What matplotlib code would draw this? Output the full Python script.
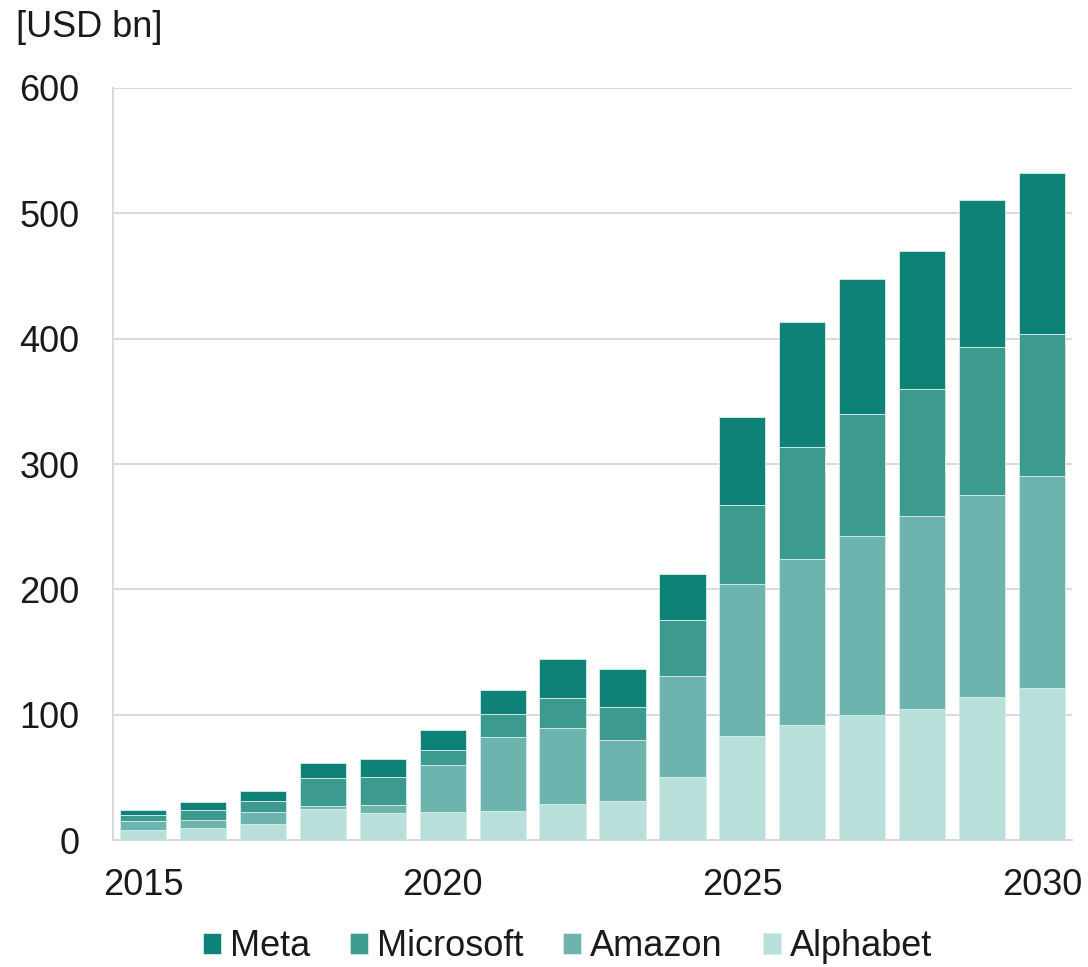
import matplotlib.pyplot as plt
import numpy as np

plt.rcParams['font.family'] = ['Liberation Sans', 'DejaVu Sans']

# capex by company, USD bn
years = np.arange(2015, 2031)
alphabet = [8.4, 9.6, 12.8, 24.7, 21.8, 22.1, 22.9, 29.0, 30.9, 50.0, 83.2, 91.8, 100.0, 104.9, 114.2, 120.9]
amazon = [6.8, 6.4, 9.5, 2.4, 6.1, 37.7, 59.3, 60.1, 49.1, 80.9, 121.3, 132.4, 142.9, 153.3, 160.7, 169.6]
microsoft = [4.5, 7.7, 8.6, 22.4, 22.4, 12.3, 18.3, 24.0, 26.1, 44.6, 62.8, 89.4, 97.1, 101.7, 118.1, 113.5]
meta = [4.2, 6.4, 8.0, 11.7, 14.6, 15.9, 19.4, 31.1, 30.1, 36.7, 70.2, 99.7, 107.7, 109.9, 117.7, 128.0]

colors = {
    'Alphabet': '#b8dfda',
    'Amazon': '#6db4ae',
    'Microsoft': '#3c9a8e',
    'Meta': '#0e8276',
}

fig = plt.figure(figsize=(10.88, 9.67), dpi=100)
ax = fig.add_axes([0.1039, 0.1313, 0.8814, 0.7777])

bottom = np.zeros(len(years))
bars = {}
for name, vals in [('Alphabet', alphabet), ('Amazon', amazon),
                   ('Microsoft', microsoft), ('Meta', meta)]:
    bars[name] = ax.bar(years, vals, bottom=bottom, width=0.77,
                        color=colors[name], edgecolor='#d8eeeb', linewidth=0.6,
                        label=name, zorder=3)
    bottom += np.array(vals)

ax.set_xlim(2014.5, 2030.5)
ax.set_ylim(0, 600)
ax.set_yticks(range(0, 601, 100))
ax.set_xticks([2015, 2020, 2025, 2030])
ax.tick_params(axis='both', length=0, labelsize=26, labelcolor='#1a1a1a')
ax.tick_params(axis='y', pad=24)
ax.tick_params(axis='x', pad=20)

ax.grid(axis='y', color='#d9d9d9', linewidth=1.4, zorder=0)
for s in ['top', 'right']:
    ax.spines[s].set_visible(False)
for s in ['left', 'bottom']:
    ax.spines[s].set_color('#d9d9d9')
    ax.spines[s].set_linewidth(1.4)

fig.text(0.015, 0.972, '[USD bn]', fontsize=26, color='#1a1a1a', va='center', ha='left')

order = ['Meta', 'Microsoft', 'Amazon', 'Alphabet']
fig.legend([bars[n] for n in order], order, loc='center',
           bbox_to_anchor=(0.5216, 0.0207), ncol=4, frameon=False, fontsize=26,
           handlelength=0.5, handleheight=0.5, handletextpad=0.25,
           columnspacing=1.1, labelcolor='#1a1a1a', borderpad=0)

fig.savefig('out.png', dpi=100)
